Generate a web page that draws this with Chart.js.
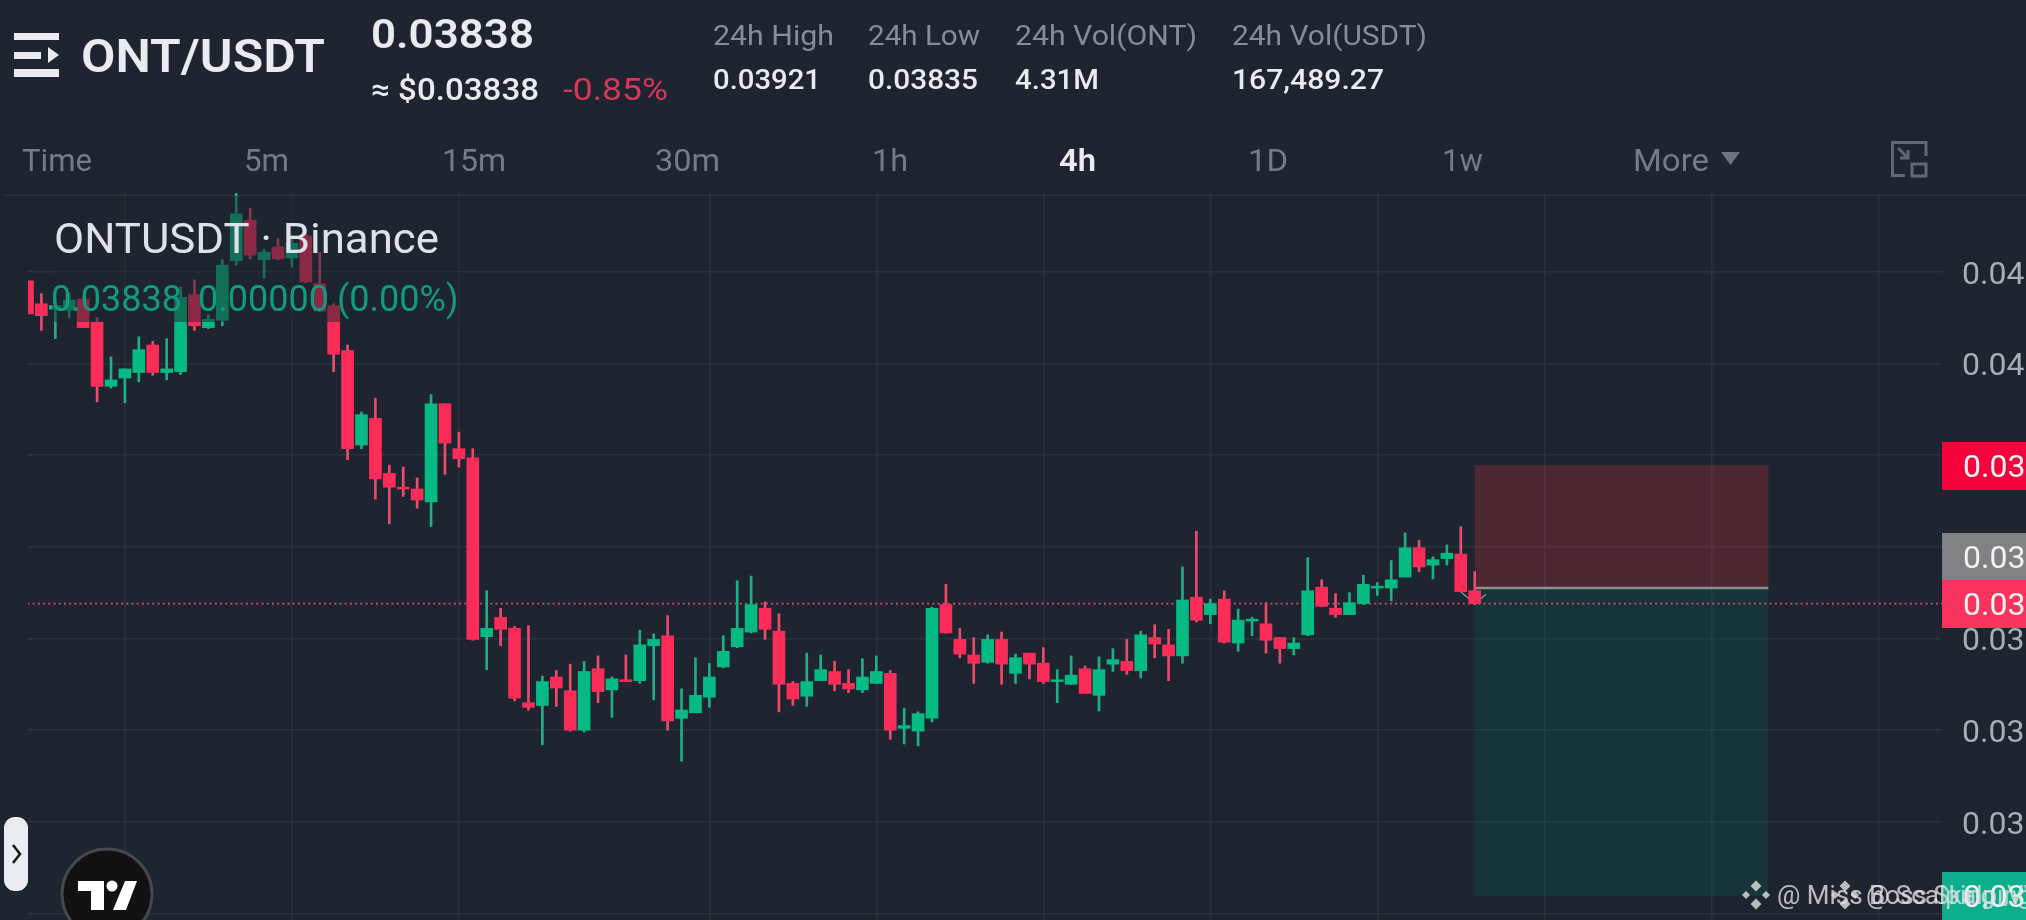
<!DOCTYPE html>
<html><head><meta charset="utf-8">
<style>html,body{margin:0;padding:0;background:#1e2530;overflow:hidden}canvas{display:block}</style>
<script src="https://cdn.jsdelivr.net/npm/chart.js@4"></script>
</head><body><canvas id="c" width="2026" height="920"></canvas>
<script>
const opens=[0.04190,0.04165,0.04159,0.04158,0.04170,0.04145,0.04075,0.04084,0.04090,0.04120,0.04090,0.04091,0.04175,0.04139,0.04147,0.04212,0.04256,0.04213,0.04227,0.04215,0.04239,0.04187,0.04163,0.04114,0.04011,0.04040,0.03980,0.03965,0.03963,0.03949,0.04056,0.04007,0.03997,0.03802,0.03823,0.03811,0.03730,0.03727,0.03758,0.03743,0.03700,0.03767,0.03744,0.03755,0.03754,0.03792,0.03803,0.03713,0.03719,0.03736,0.03769,0.03791,0.03807,0.03833,0.03808,0.03751,0.03737,0.03754,0.03764,0.03751,0.03744,0.03751,0.03762,0.03702,0.03699,0.03713,0.03837,0.03799,0.03782,0.03774,0.03799,0.03762,0.03784,0.03773,0.03753,0.03750,0.03767,0.03738,0.03772,0.03775,0.03765,0.03801,0.03793,0.03781,0.03845,0.03826,0.03843,0.03795,0.03819,0.03816,0.03801,0.03789,0.03804,0.03856,0.03833,0.03826,0.03838,0.03855,0.03855,0.03867,0.03899,0.03880,0.03887,0.03892,0.03852];
const highs=[0.04190,0.04176,0.04171,0.04177,0.04172,0.04150,0.04107,0.04094,0.04129,0.04124,0.04127,0.04183,0.04191,0.04153,0.04213,0.04286,0.04269,0.04224,0.04236,0.04239,0.04241,0.04221,0.04165,0.04120,0.04047,0.04062,0.03989,0.03987,0.03975,0.04066,0.04056,0.04025,0.04007,0.03852,0.03833,0.03813,0.03814,0.03759,0.03765,0.03772,0.03775,0.03781,0.03758,0.03782,0.03809,0.03805,0.03825,0.03745,0.03779,0.03773,0.03803,0.03863,0.03868,0.03840,0.03827,0.03753,0.03784,0.03782,0.03775,0.03766,0.03778,0.03781,0.03765,0.03724,0.03720,0.03834,0.03859,0.03811,0.03801,0.03804,0.03807,0.03783,0.03784,0.03790,0.03766,0.03781,0.03770,0.03780,0.03789,0.03799,0.03808,0.03815,0.03810,0.03878,0.03917,0.03843,0.03852,0.03832,0.03823,0.03839,0.03801,0.03801,0.03888,0.03864,0.03849,0.03850,0.03869,0.03861,0.03885,0.03915,0.03907,0.03889,0.03902,0.03922,0.03873];
const lows=[0.04154,0.04136,0.04127,0.04150,0.04139,0.04058,0.04073,0.04057,0.04080,0.04087,0.04082,0.04088,0.04136,0.04138,0.04141,0.04207,0.04214,0.04193,0.04213,0.04205,0.04188,0.04156,0.04091,0.03995,0.04007,0.03952,0.03925,0.03955,0.03942,0.03922,0.03979,0.03987,0.03798,0.03766,0.03792,0.03732,0.03722,0.03684,0.03726,0.03699,0.03698,0.03730,0.03714,0.03753,0.03751,0.03733,0.03700,0.03666,0.03719,0.03725,0.03768,0.03790,0.03806,0.03799,0.03720,0.03727,0.03726,0.03754,0.03743,0.03741,0.03741,0.03751,0.03690,0.03685,0.03683,0.03709,0.03806,0.03779,0.03751,0.03773,0.03750,0.03751,0.03756,0.03751,0.03730,0.03750,0.03740,0.03721,0.03764,0.03761,0.03757,0.03779,0.03754,0.03773,0.03818,0.03816,0.03795,0.03786,0.03803,0.03784,0.03773,0.03782,0.03803,0.03835,0.03823,0.03826,0.03837,0.03847,0.03841,0.03867,0.03873,0.03865,0.03880,0.03851,0.03837];
const closes=[0.04154,0.04152,0.04163,0.04169,0.04139,0.04075,0.04082,0.04094,0.04115,0.04090,0.04094,0.04172,0.04141,0.04148,0.04207,0.04263,0.04218,0.04221,0.04214,0.04231,0.04189,0.04157,0.04110,0.04007,0.04044,0.03974,0.03965,0.03963,0.03951,0.04056,0.04013,0.03996,0.03799,0.03811,0.03810,0.03735,0.03725,0.03753,0.03746,0.03700,0.03764,0.03742,0.03756,0.03753,0.03793,0.03799,0.03710,0.03722,0.03738,0.03758,0.03786,0.03811,0.03837,0.03810,0.03750,0.03734,0.03753,0.03766,0.03750,0.03745,0.03758,0.03764,0.03700,0.03705,0.03718,0.03833,0.03806,0.03783,0.03773,0.03799,0.03772,0.03779,0.03772,0.03753,0.03755,0.03760,0.03740,0.03766,0.03777,0.03765,0.03804,0.03794,0.03781,0.03842,0.03820,0.03838,0.03796,0.03820,0.03821,0.03798,0.03789,0.03795,0.03852,0.03835,0.03826,0.03839,0.03859,0.03857,0.03864,0.03899,0.03878,0.03886,0.03893,0.03851,0.03838];
const priceTicks=[0.042,0.041,0.040,0.039,0.038,0.037,0.036,0.035];
const tickLabels=["0.04","0.04","","","0.03","0.03","0.03",""];
const timeGrid=[7,19,31,49,61,73,85,97,109,121,133];
const lastPrice=0.03838;
const stopPrice=0.03989, entryPrice=0.03855, targetPrice=0.03519;
const boxStart=104, boxEnd=125.1;

const BG='#1e2530',GRID='#2b323d',UP='#06bb83',DOWN='#fb2d58',UPW='#1fae87',DOWNW='#e94c6c';
const FONT='Roboto';
const idx=opens.map((_,i)=>i);
const isUp=i=>closes[i]>=opens[i];

function rr(ctx,x,y,w,h,r){ctx.beginPath();ctx.roundRect(x,y,w,h,r);}
function txt(ctx,s,x,y,size,color,weight,fit){ctx.font=`${weight||400} ${size}px ${FONT}`;ctx.fillStyle=color;ctx.textAlign='left';ctx.textBaseline='alphabetic';
  if(fit){const k=fit/ctx.measureText(s).width;ctx.save();ctx.translate(x,y);ctx.scale(k,1);ctx.fillText(s,0,0);ctx.restore();}
  else ctx.fillText(s,x,y);}

const positionBox={id:'positionBox',beforeDatasetsDraw(ch){
  const c=ch.ctx,x=ch.scales.x,y=ch.scales.y,l=x.getPixelForValue(boxStart),r=x.getPixelForValue(boxEnd);
  const a=y.getPixelForValue(stopPrice),m=y.getPixelForValue(entryPrice),b=y.getPixelForValue(targetPrice);
  c.save();
  c.fillStyle='rgba(255,50,65,0.21)';c.fillRect(l,a,r-l,m-a);
  c.fillStyle='rgba(0,110,90,0.22)';c.fillRect(l,m,r-l,b-m);
  c.strokeStyle='#8c9090';c.lineWidth=2.4;c.beginPath();c.moveTo(l,m);c.lineTo(r,m);c.stroke();
  c.lineWidth=1.5;c.beginPath();c.moveTo(x.getPixelForValue(103),y.getPixelForValue(0.03851));c.lineTo(x.getPixelForValue(104),y.getPixelForValue(0.03838));c.lineTo(x.getPixelForValue(104.8),y.getPixelForValue(0.03848));c.stroke();
  c.restore();
}};

const overlay={id:'overlay',beforeDraw(ch){const c=ch.ctx;c.save();c.fillStyle=BG;c.fillRect(0,0,2026,920);
    c.fillStyle=GRID;c.fillRect(5,194.5,2021,1.5);c.restore();},
  afterDraw(ch){
  const c=ch.ctx;c.save();
  // legend veil
  c.fillStyle='rgba(30,37,48,0.5)';c.fillRect(52,196,408,126);
  txt(c,'ONTUSDT · Binance',54,253,43,'#dfe1e8',400,385);
  txt(c,'0.03838',51,311,36,'#119c7c');txt(c,'0.00000',198,311,36,'#119c7c');txt(c,'(0.00%)',337,311,36,'#119c7c');
  // price labels
  const labs=[[442,48,'#f5023c'],[533,47,'#808182'],[580,48,'#f9335d'],[872,48,'#0cae8e']];
  labs.forEach(([t,h,col])=>{c.fillStyle=col;c.fillRect(1942,t,84,h);});
  labs.forEach(([t,h])=>txt(c,'0.03',1963,t+h/2+11,32,'#f2f3f5'));
  // header
  c.fillStyle='#e9ebf0';
  c.fillRect(14,33,45,7);c.fillRect(14,52,27,7);c.fillRect(14,69,45,8);
  c.beginPath();c.moveTo(48,47);c.lineTo(59,55);c.lineTo(48,63);c.closePath();c.fill();
  txt(c,'ONT/USDT',81,72,46,'#e9ebf0',600,244);
  txt(c,'0.03838',371,48,40,'#e9ebf0',600,163);
  txt(c,'≈ $0.03838',371,100,31,'#e9ebf0',500,168);
  txt(c,'-0.85%',563,100,31,'#d9375a',400,105);
  const G='#848d9a',W='#e9ebf0';
  [['24h High',713,121],['24h Low',868,112],['24h Vol(ONT)',1015,182],['24h Vol(USDT)',1232,195]].forEach(([s,x,f])=>txt(c,s,x,45,28,G,400,f));
  [['0.03921',713,108],['0.03835',868,110],['4.31M',1015,84],['167,489.27',1232,152]].forEach(([s,x,f])=>txt(c,s,x,89,28,W,500,f));
  const tabs=[['Time',22,70],['5m',244,45],['15m',442,64],['30m',655,65],['1h',872,36],['1D',1248,40],['1w',1442,41],['More',1633,76]];
  tabs.forEach(([s,x,f])=>txt(c,s,x,171,31,'#727c8a',400,f));
  txt(c,'4h',1059,171,31,W,600,37);
  c.fillStyle='#6b7585';c.beginPath();c.moveTo(1721,152);c.lineTo(1740,152);c.lineTo(1730.5,165);c.closePath();c.fill();
  c.strokeStyle='#5f6878';c.lineWidth=3;c.beginPath();c.moveTo(1905,175.5);c.lineTo(1892.5,175.5);c.lineTo(1892.5,142.5);c.lineTo(1926,142.5);c.lineTo(1926,156);c.stroke();
  c.strokeRect(1912,164,14,12);
  c.beginPath();c.moveTo(1898,148);c.lineTo(1908,158);c.moveTo(1908,150);c.lineTo(1908,158);c.lineTo(1900,158);c.stroke();
  // side pill
  c.fillStyle='#eaecf0';rr(c,4,817,24,74,11);c.fill();
  c.strokeStyle='#14161a';c.lineWidth=2.5;c.beginPath();c.moveTo(13,845);c.lineTo(20,854);c.lineTo(13,863);c.stroke();
  // logo
  c.beginPath();c.arc(107,894,45,0,Math.PI*2);c.fillStyle='#121212';c.fill();c.strokeStyle='#45484d';c.lineWidth=3;c.stroke();
  c.fillStyle='#fff';c.beginPath();c.moveTo(78,881);c.lineTo(104,881);c.lineTo(104,910);c.lineTo(91,910);c.lineTo(91,891);c.lineTo(78,891);c.closePath();c.fill();
  c.beginPath();c.arc(112,886,5.5,0,Math.PI*2);c.fill();
  c.beginPath();c.moveTo(125,881);c.lineTo(137,881);c.lineTo(126,910);c.lineTo(113,910);c.closePath();c.fill();
  // watermarks
  const wm=(x,s)=>{c.fillStyle='rgba(225,225,225,0.8)';[[0,-9,5.5],[0,9,5.5],[-10,0,4],[10,0,4]].forEach(([dx,dy,r])=>{c.beginPath();c.moveTo(x+dx,895+dy-r);c.lineTo(x+dx+r,895+dy);c.lineTo(x+dx,895+dy+r);c.lineTo(x+dx-r,895+dy);c.closePath();c.fill();});
    txt(c,s,x+21,904,26,'rgba(225,225,225,0.8)');};
  wm(1756,'@ Miss Boss Skalping');wm(1845,'@ Scalping_VW');
  c.restore();
}};

new Chart(document.getElementById('c'),{
  data:{datasets:[
    {type:'line',data:[{x:0,y:lastPrice},{x:138,y:lastPrice}],borderColor:'#c9506a',borderWidth:1.6,borderDash:[2,3.2],pointRadius:0,order:3},
    {type:'bar',data:idx.map(i=>({x:i,y:[lows[i],highs[i]]})),backgroundColor:idx.map(i=>isUp(i)?UPW:DOWNW),barThickness:2,grouped:false,order:2},
    {type:'bar',data:idx.map(i=>({x:i,y:[opens[i],closes[i]]})),backgroundColor:idx.map(i=>isUp(i)?UP:DOWN),barThickness:12,grouped:false,order:1}
  ]},
  plugins:[positionBox,overlay],
  options:{responsive:false,animation:false,devicePixelRatio:1,events:[],
    layout:{padding:{left:28,top:193,right:0,bottom:0}},
    plugins:{legend:{display:false},tooltip:{enabled:false},title:{display:false}},
    scales:{
      x:{type:'linear',min:0.036,max:137.58,offset:false,border:{display:false},
        grid:{color:GRID,lineWidth:1.5,drawTicks:false,offset:false},ticks:{display:false},
        afterBuildTicks:s=>{s.ticks=timeGrid.map(v=>({value:v}));},afterFit:s=>{s.height=0;s.paddingLeft=0;s.paddingRight=0;}},
      y:{type:'linear',position:'right',min:0.03493,max:0.042858,border:{display:false},
        grid:{color:GRID,lineWidth:1.5,drawTicks:false},
        ticks:{autoSkip:false,crossAlign:'near',padding:20,labelOffset:4,color:'#a9adb4',font:{family:FONT,size:32},callback:(v,i)=>tickLabels[i]},
        afterBuildTicks:s=>{s.ticks=priceTicks.map(v=>({value:v}));},afterFit:s=>{s.width=84;s.paddingTop=0;s.paddingBottom=0;}}
    }}
});
</script></body></html>
